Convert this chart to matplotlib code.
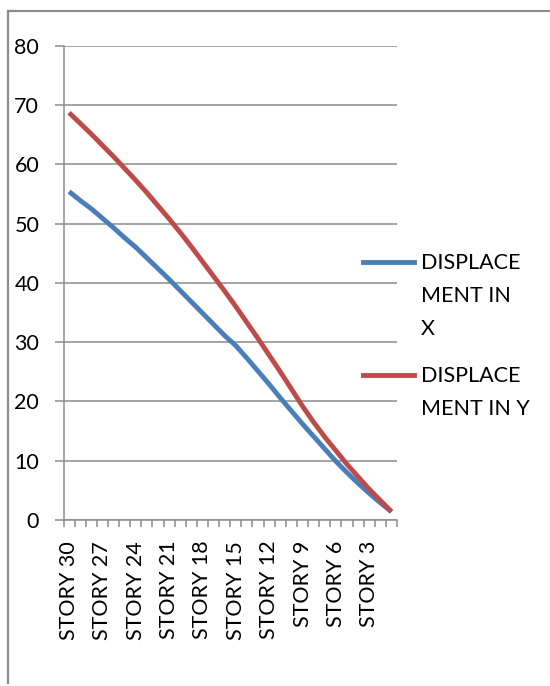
import numpy as np
import matplotlib
matplotlib.use("Agg")
import matplotlib.pyplot as plt
from matplotlib.lines import Line2D

plt.rcParams['font.family'] = ['Lato', 'DejaVu Sans']

# storeys from top (30) down to 1
stories = ["STORY 30", "STORY 29", "STORY 28", "STORY 27", "STORY 26", "STORY 25",
           "STORY 24", "STORY 23", "STORY 22", "STORY 21", "STORY 20", "STORY 19",
           "STORY 18", "STORY 17", "STORY 16", "STORY 15", "STORY 14", "STORY 13",
           "STORY 12", "STORY 11", "STORY 10", "STORY 9", "STORY 8", "STORY 7",
           "STORY 6", "STORY 5", "STORY 4", "STORY 3", "STORY 2", "STORY 1"]

disp_x = [55.4, 53.9, 52.5, 50.9, 49.3, 47.6, 46.0, 44.2, 42.4, 40.6,
          38.7, 36.8, 34.9, 33.0, 31.1, 29.4, 27.3, 25.1, 22.9, 20.6,
          18.4, 16.2, 14.1, 12.0, 9.9, 8.0, 6.2, 4.5, 2.9, 1.4]

disp_y = [68.7, 66.9, 65.1, 63.2, 61.3, 59.3, 57.3, 55.2, 53.0, 50.8,
          48.5, 46.1, 43.6, 41.1, 38.6, 36.0, 33.3, 30.6, 27.8, 25.0,
          22.1, 19.2, 16.5, 14.0, 11.7, 9.4, 7.3, 5.2, 3.3, 1.4]

series_names = ["DISPLACE\nMENT IN\nX", "DISPLACE\nMENT IN Y"]
series_colors = ["#4A7EBB", "#BE4B48"]

W, H = 550, 686
fig = plt.figure(figsize=(W / 100, H / 100), dpi=100)
ax = fig.add_axes([63.5 / W, 1 - 520 / H, (397 - 63.5) / W, (520 - 45.7) / H])

pos = np.arange(len(stories))
for vals, col in zip([disp_x, disp_y], series_colors):
    ax.plot(pos, vals, color=col, lw=3.5, solid_capstyle='butt')

grid_col = "#8C8C8C"
ax.set_ylim(0, 80)
ax.set_yticks(range(0, 81, 10))
ax.set_xlim(-0.5, len(stories) - 0.5)
ax.yaxis.grid(True, color=grid_col, lw=1.1)
ax.set_axisbelow(True)

# labels every third storey, tick marks between categories
ax.set_xticks(pos[::3])
ax.set_xticklabels(stories[::3], rotation=90)
ax.set_xticks(np.arange(-0.5, len(stories)), minor=True)
ax.tick_params(axis='x', which='major', length=0, pad=15, labelsize=15.5)
ax.tick_params(axis='x', which='minor', length=5, width=1.1, color=grid_col)
ax.tick_params(axis='y', length=6.5, width=1.1, color=grid_col, pad=11,
               labelsize=15.5)

for side in ['top', 'right']:
    ax.spines[side].set_visible(False)
for side in ['left', 'bottom']:
    ax.spines[side].set_color(grid_col)
    ax.spines[side].set_linewidth(1.1)

# legend to the right of the plot
for (name, col, yc) in zip(series_names, series_colors, [262, 375]):
    fig.add_artist(Line2D([363 / W, 414 / W], [1 - yc / H, 1 - yc / H],
                          color=col, lw=3.5, transform=fig.transFigure))
    fig.text(421 / W, 1 - (yc - 9) / H, name, fontsize=15.5, va='top',
             ha='left', linespacing=1.8)

# outer frame
fig.add_artist(Line2D([8 / W, 8 / W], [1 - 10.5 / H, 1 - 683 / H],
                      color="#8C8C8C", lw=1.6, transform=fig.transFigure))
fig.add_artist(Line2D([8 / W, 1], [1 - 10.5 / H, 1 - 10.5 / H],
                      color="#8C8C8C", lw=1.6, transform=fig.transFigure))

fig.savefig("out.png", dpi=100)
